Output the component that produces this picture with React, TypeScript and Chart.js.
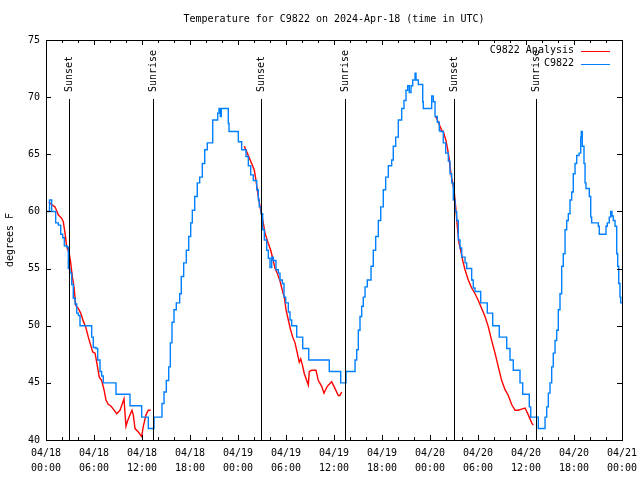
import React, { useEffect, useRef } from 'react';
import { Chart, registerables } from 'chart.js';

Chart.register(...registerables);

const FONT = '"DejaVu Sans Mono", "Liberation Mono", monospace';

const chartTitle = 'Temperature for C9822 on 2024-Apr-18 (time in UTC)';
const yAxisTitle = 'degrees F';
const seriesNames = ['C9822 Analysis', 'C9822'];
const seriesColors = ['#ff0000', '#0080ff'];

// x axis: hours since 2024-04-18 00:00 UTC
const xMin = 0;
const xMax = 72;
const xMajorStep = 6;
const xMinorStep = 2;
const dayLabels = ['04/18', '04/19', '04/20', '04/21'];
const hourLabels = ['00:00', '06:00', '12:00', '18:00'];

const yMin = 40;
const yMax = 75;
const yStep = 5;

const sunEventHours = [2.92, 13.42, 26.93, 37.42, 50.95, 61.3];
const sunEventLabels = ['Sunset', 'Sunrise', 'Sunset', 'Sunrise', 'Sunset', 'Sunrise'];

// observed station temperature [hour, degF] (step changes)
const c9822Obs: [number, number][] = [
  [0, 60], [0.44, 61], [0.71, 60], [1.21, 59], [1.54, 58.8], [1.84, 58], [2.09, 57.7], [2.29, 57],
  [2.59, 56.9], [2.79, 55], [3.0, 54.6], [3.21, 53.6], [3.41, 52.4], [3.63, 51.9], [3.84, 51.1],
  [4.04, 50.9], [4.25, 50], [5.71, 49], [5.91, 48.1], [6.25, 48], [6.46, 47], [6.75, 46], [6.96, 45.6],
  [7.16, 45], [8.75, 44], [10.5, 43], [11.96, 42], [12.79, 41], [13.5, 42], [14.5, 43.2], [14.75, 44.2],
  [15.04, 45.2], [15.34, 46.4], [15.54, 48.5], [15.75, 50.3], [16.0, 51.4], [16.29, 52], [16.71, 52.8],
  [16.91, 54.3], [17.21, 55.5], [17.54, 56.6], [17.84, 57.8], [18.09, 59], [18.29, 60.1], [18.59, 61.3],
  [18.91, 62.5], [19.21, 63], [19.54, 64.2], [19.84, 65.4], [20.16, 66], [20.84, 68], [21.46, 68.6],
  [21.63, 69], [21.79, 68.3], [21.91, 69], [22.79, 67.7], [22.88, 67], [24.04, 66.1], [24.46, 65.4],
  [25.0, 64.8], [25.29, 64], [25.59, 63.2], [25.91, 62.7], [26.34, 61.9], [26.54, 61], [26.66, 60.4],
  [26.88, 59.8], [27.09, 58.4], [27.29, 57.5], [27.59, 56.6], [27.79, 55.9], [28.0, 55.1], [28.21, 56],
  [28.41, 55.7], [28.75, 54.9], [29.04, 54.6], [29.25, 54], [29.54, 53.7], [29.75, 52.5], [29.96, 52],
  [30.29, 51.2], [30.5, 50.5], [30.71, 50], [31.34, 49], [32.09, 48], [32.84, 47], [35.41, 46],
  [36.84, 45], [37.5, 46], [38.63, 47], [38.84, 47.9], [39.04, 49.6], [39.25, 50.8], [39.46, 51.7],
  [39.66, 52.5], [39.88, 53.4], [40.16, 54], [40.63, 55.2], [40.91, 56.6], [41.21, 57.8], [41.54, 59.2],
  [41.84, 60.4], [42.16, 61.9], [42.46, 63], [42.79, 64], [43.21, 64.5], [43.41, 65.7], [43.71, 66.5],
  [44.04, 68], [44.46, 69], [44.75, 69.7], [45.0, 70.6], [45.21, 71], [45.41, 70.4], [45.63, 71],
  [45.84, 71.5], [46.13, 72.1], [46.25, 71.5], [46.54, 71.1], [47.09, 69.6], [47.16, 69], [48.21, 70.1],
  [48.41, 69.6], [48.63, 68.3], [48.91, 67.8], [49.16, 67.1], [49.25, 67], [49.66, 66], [49.96, 65.1],
  [50.29, 64.4], [50.5, 63.3], [50.71, 62.5], [50.91, 61], [51.13, 60], [51.34, 59.2], [51.54, 57.5],
  [51.75, 56.8], [51.96, 56], [52.38, 55.5], [52.59, 55], [53.21, 54], [53.41, 53.3], [53.63, 53],
  [54.34, 52], [55.16, 51.1], [55.84, 50], [56.66, 49], [57.59, 48], [58.0, 47], [58.41, 46.1],
  [59.25, 45], [59.59, 44], [60.41, 42.9], [60.59, 42], [61.54, 41], [62.38, 42], [62.59, 42.9],
  [62.79, 44.1], [63.0, 45], [63.21, 46.4], [63.41, 47.6], [63.63, 48.7], [63.84, 49.6], [64.04, 51.4],
  [64.25, 52.8], [64.46, 55.2], [64.66, 56.3], [64.88, 58.4], [65.09, 59.2], [65.29, 59.8], [65.5, 61],
  [65.71, 61.7], [65.91, 63.3], [66.13, 64.2], [66.34, 64.9], [66.63, 65.1], [66.84, 66.5], [66.91, 67],
  [67.04, 65.7], [67.25, 64.2], [67.38, 62.5], [67.5, 62], [67.91, 61.3], [68.09, 59.5], [68.21, 59],
  [69.04, 58.7], [69.16, 58], [70.0, 58.7], [70.16, 59], [70.41, 59.5], [70.59, 60], [70.75, 59.6],
  [70.91, 59.2], [71.13, 58.7], [71.34, 56.3], [71.46, 55.2], [71.59, 53.7], [71.75, 52.5], [71.84, 52],
  [72, 52],
];

// analysis temperature [hour, degF], three overnight segments
const analysisNight1: [number, number][] = [
  [0.35, 60.8], [0.71, 60.6], [1.13, 60.4], [1.54, 59.7], [1.96, 59.4], [2.16, 59.1], [2.38, 58.1],
  [2.59, 56.9], [2.91, 56.3], [3.09, 55.5], [3.29, 54.3], [3.5, 53.4], [3.71, 51.8], [4.04, 51.5],
  [4.34, 51.1], [4.66, 50.4], [4.96, 49.9], [5.29, 49], [5.5, 48.5], [5.84, 47.7], [6.13, 47.6],
  [6.34, 46.8], [6.66, 45.5], [6.96, 45.2], [7.25, 44.4], [7.5, 43.5], [7.79, 43.1], [8.09, 43],
  [8.41, 42.7], [8.84, 42.3], [9.25, 42.6], [9.75, 43.6], [9.88, 42.3], [10.0, 41.2], [10.16, 41.6],
  [10.5, 42.2], [10.75, 42.6], [10.91, 42.2], [11.13, 41], [11.54, 40.7], [11.96, 40.3], [12.16, 41.2],
  [12.5, 42.2], [12.79, 42.6], [13.09, 42.6],
];
const analysisNight2: [number, number][] = [
  [24.79, 65.7], [25.16, 65.1], [25.71, 64.2], [26.04, 63.6], [26.25, 62.7], [26.54, 61.3],
  [26.84, 60.1], [27.16, 59], [27.38, 58.1], [27.79, 57.2], [28.09, 56.6], [28.34, 55.9], [28.63, 55],
  [28.91, 54.6], [29.25, 53.9], [29.54, 53.1], [29.79, 52.5], [30.0, 51.4], [30.29, 50.5], [30.59, 49.6],
  [30.84, 49], [31.13, 48.5], [31.41, 47.6], [31.66, 46.8], [31.84, 47.1], [32.04, 46.6], [32.29, 45.8],
  [32.59, 45.2], [32.79, 44.8], [32.91, 46], [33.21, 46.1], [33.75, 46.1], [34.04, 45.2], [34.46, 44.7],
  [34.75, 44.1], [35.16, 44.7], [35.71, 45.1], [36.13, 44.5], [36.54, 43.9], [36.75, 43.9], [36.96, 44.2],
];
const analysisNight3: [number, number][] = [
  [48.71, 68.3], [49.04, 67.8], [49.46, 67.1], [49.66, 67], [50.0, 66.2], [50.19, 65.5], [50.38, 64.7],
  [50.5, 63.9], [50.71, 62.9], [51.0, 61.9], [51.21, 60.4], [51.41, 58.7], [51.63, 57.2], [51.84, 56.6],
  [52.09, 55.7], [52.38, 54.9], [52.79, 54], [53.21, 53.3], [53.63, 52.8], [54.04, 52.2], [54.46, 51.5],
  [54.88, 50.8], [55.29, 49.9], [55.71, 48.7], [56.13, 47.6], [56.54, 46.4], [56.96, 45.2], [57.38, 44.4],
  [57.79, 43.9], [58.21, 43.1], [58.63, 42.6], [59.04, 42.6], [59.46, 42.7], [59.88, 42.8], [60.29, 42.2],
  [60.71, 41.5], [60.91, 41.3],
];

const toPoints = (pairs: [number, number][]) => pairs.map(([x, y]) => ({ x, y }));

const analysisPoints = [
  ...toPoints(analysisNight1),
  { x: 18, y: null },
  ...toPoints(analysisNight2),
  { x: 42, y: null },
  ...toPoints(analysisNight3),
];

const decorPlugin = {
  id: 'gnuplotDecor',
  afterDatasetsDraw(chart: any) {
    const { ctx, chartArea: a } = chart;
    const xs = chart.scales.x;
    const ys = chart.scales.y;
    const h = a.bottom - a.top;
    ctx.save();
    ctx.strokeStyle = '#000';
    ctx.fillStyle = '#000';
    ctx.lineWidth = 1;
    ctx.font = `10px ${FONT}`;

    // sunrise / sunset markers
    sunEventHours.forEach((hr, i) => {
      const px = Math.round(xs.getPixelForValue(hr)) + 0.5;
      ctx.beginPath();
      ctx.moveTo(px, a.bottom);
      ctx.lineTo(px, a.top + h * 0.1475);
      ctx.stroke();
      ctx.save();
      ctx.translate(px, a.top + h * 0.13);
      ctx.rotate(-Math.PI / 2);
      ctx.textAlign = 'left';
      ctx.textBaseline = 'middle';
      ctx.fillText(sunEventLabels[i], 0, 0);
      ctx.restore();
    });

    // border
    ctx.strokeRect(a.left + 0.5, a.top + 0.5, a.right - a.left, a.bottom - a.top);

    // x ticks (bottom and top, inward)
    for (let v = xMin; v <= xMax; v += xMinorStep) {
      const px = Math.round(xs.getPixelForValue(v)) + 0.5;
      const len = v % xMajorStep === 0 ? 5 : 3;
      ctx.beginPath();
      ctx.moveTo(px, a.bottom);
      ctx.lineTo(px, a.bottom - len);
      ctx.moveTo(px, a.top);
      ctx.lineTo(px, a.top + len);
      ctx.stroke();
    }
    // y ticks (left and right, inward)
    for (let v = yMin; v <= yMax; v += yStep) {
      const py = Math.round(ys.getPixelForValue(v)) + 0.5;
      ctx.beginPath();
      ctx.moveTo(a.left, py);
      ctx.lineTo(a.left + 5, py);
      ctx.moveTo(a.right, py);
      ctx.lineTo(a.right - 5, py);
      ctx.stroke();
    }

    // title
    ctx.textAlign = 'center';
    ctx.textBaseline = 'middle';
    ctx.fillText(chartTitle, (a.left + a.right) / 2, 19);

    // y axis title
    ctx.save();
    ctx.translate(10, (a.top + a.bottom) / 2);
    ctx.rotate(-Math.PI / 2);
    ctx.fillText(yAxisTitle, 0, 0);
    ctx.restore();

    // legend
    seriesNames.forEach((name, i) => {
      const y = a.top + 10.5 + i * 13;
      ctx.textAlign = 'right';
      ctx.textBaseline = 'middle';
      ctx.fillStyle = '#000';
      ctx.fillText(name, a.right - 48, y);
      ctx.strokeStyle = seriesColors[i];
      ctx.beginPath();
      ctx.moveTo(a.right - 41, Math.round(y) + 0.5);
      ctx.lineTo(a.right - 12, Math.round(y) + 0.5);
      ctx.stroke();
    });
    ctx.restore();
  },
};

export default function App() {
  const canvasRef = useRef<HTMLCanvasElement | null>(null);

  useEffect(() => {
    document.body.style.margin = '0';
    const canvas = canvasRef.current;
    if (!canvas) return;
    const chart = new Chart(canvas, {
      type: 'line',
      data: {
        datasets: [
          {
            label: seriesNames[1],
            data: toPoints(c9822Obs),
            borderColor: seriesColors[1],
            borderWidth: 1.4,
            pointRadius: 0,
            stepped: true,
            fill: false,
          },
          {
            label: seriesNames[0],
            data: analysisPoints as any,
            borderColor: seriesColors[0],
            borderWidth: 1.4,
            pointRadius: 0,
            tension: 0,
            spanGaps: false,
            fill: false,
          },
        ],
      },
      options: {
        animation: false,
        responsive: false,
        devicePixelRatio: 1,
        layout: { padding: { top: 40, right: 18, left: 0, bottom: 0 } },
        plugins: {
          legend: { display: false },
          title: { display: false },
          tooltip: { enabled: false },
        },
        scales: {
          x: {
            type: 'linear',
            min: xMin,
            max: xMax,
            grid: { display: false, drawTicks: false },
            border: { display: false },
            afterFit: (s: any) => {
              s.height = 40;
              s.paddingLeft = 0;
              s.paddingRight = 0;
            },
            ticks: {
              stepSize: xMajorStep,
              autoSkip: false,
              maxRotation: 0,
              padding: 6,
              color: '#000',
              font: { family: FONT, size: 10, lineHeight: 1.5 },
              callback: (value: any) => {
                const v = Number(value);
                const day = Math.floor(v / 24);
                const hr = Math.round((v % 24) / 6);
                return [dayLabels[day], hourLabels[hr]];
              },
            },
          },
          y: {
            min: yMin,
            max: yMax,
            grid: { display: false, drawTicks: false },
            border: { display: false },
            afterFit: (s: any) => {
              s.width = 46;
              s.paddingTop = 0;
              s.paddingBottom = 0;
            },
            ticks: {
              stepSize: yStep,
              padding: 6,
              color: '#000',
              font: { family: FONT, size: 10 },
            },
          },
        },
      },
      plugins: [decorPlugin],
    });
    return () => chart.destroy();
  }, []);

  return (
    <div style={{ width: 640, height: 480, background: '#fff' }}>
      <canvas ref={canvasRef} width={640} height={480} />
    </div>
  );
}
